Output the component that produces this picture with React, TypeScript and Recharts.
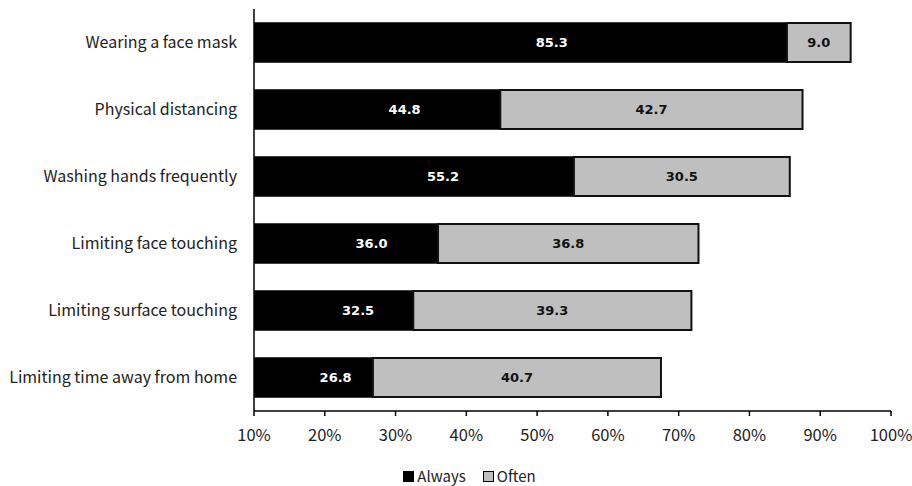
import React from "react";
import {
  BarChart,
  Bar,
  XAxis,
  YAxis,
  Legend,
  LabelList,
} from "recharts";

const categories = [
  "Wearing a face mask",
  "Physical distancing",
  "Washing hands frequently",
  "Limiting face touching",
  "Limiting surface touching",
  "Limiting time away from home",
];
const always = [85.3, 44.8, 55.2, 36.0, 32.5, 26.8];
const often = [9.0, 42.7, 30.5, 36.8, 39.3, 40.7];
const xTicks = [10, 20, 30, 40, 50, 60, 70, 80, 90, 100];

const AXIS_MIN = 10;
const FONT = '"Noto Sans CJK SC", "Noto Sans", sans-serif';
const GRAY = "#bfbfbf";

const data = categories.map((name, i) => ({
  name,
  always: always[i],
  often: often[i],
}));

// label for the "Always" part: centred on the part that is visible past the axis start
const AlwaysLabel = (props: any) => {
  const { x, y, width, height, value } = props;
  const left = x + (width * AXIS_MIN) / value;
  const cx = (left + x + width) / 2;
  return (
    <text
      x={cx}
      y={y + height / 2}
      fill="#fff"
      textAnchor="middle"
      dominantBaseline="central"
      fontFamily="DejaVu Sans"
      fontWeight="bold"
      fontSize={13}
    >
      {Number(value).toFixed(1)}
    </text>
  );
};

const OftenLabel = (props: any) => {
  const { x, y, width, height, value } = props;
  return (
    <text
      x={x + width / 2}
      y={y + height / 2}
      fill="#111"
      textAnchor="middle"
      dominantBaseline="central"
      fontFamily="DejaVu Sans"
      fontWeight="bold"
      fontSize={13}
    >
      {Number(value).toFixed(1)}
    </text>
  );
};

const LegendContent = () => (
  <div
    style={{
      display: "flex",
      justifyContent: "center",
      alignItems: "center",
      fontFamily: FONT,
      fontSize: 15,
      color: "#222",
      lineHeight: "20px",
      paddingLeft: 27,
    }}
  >
    <span style={{ display: "flex", alignItems: "center", marginRight: 17 }}>
      <span
        style={{ width: 11, height: 11, background: "#000", marginRight: 3 }}
      />
      Always
    </span>
    <span style={{ display: "flex", alignItems: "center" }}>
      <span
        style={{
          width: 9,
          height: 9,
          background: GRAY,
          border: "1.5px solid #000",
          marginRight: 3,
        }}
      />
      Often
    </span>
  </div>
);

export default function App() {
  return (
    <div style={{ position: "absolute", left: 0, top: 0, background: "#fff" }}>
      <BarChart
        width={912}
        height={486}
        data={data}
        layout="vertical"
        margin={{ top: 9, right: 21, left: 0, bottom: 45 }}
        barSize={39}
      >
        <XAxis
          type="number"
          domain={[AXIS_MIN, 100]}
          ticks={xTicks}
          allowDataOverflow
          tickFormatter={(v) => `${v}%`}
          tickSize={5}
          tickMargin={13}
          height={30}
          axisLine={{ stroke: "#000", strokeWidth: 1.5 }}
          tickLine={{ stroke: "#000", strokeWidth: 1.5 }}
          tick={{ fill: "#222", fontFamily: FONT, fontSize: 16.5 }}
        />
        <YAxis
          type="category"
          dataKey="name"
          width={254}
          tickSize={0}
          tickMargin={17}
          axisLine={{ stroke: "#000", strokeWidth: 1.5 }}
          tickLine={false}
          tick={{ fill: "#222", fontFamily: FONT, fontSize: 16 }}
        />
        <Legend
          verticalAlign="middle"
          align="center"
          layout="horizontal"
          content={<LegendContent />}
          wrapperStyle={{ top: 466, left: 0, width: 912 }}
        />
        <Bar
          dataKey="always"
          name="Always"
          stackId="a"
          fill="#000"
          stroke="#000"
          strokeWidth={1.5}
          isAnimationActive={false}
        >
          <LabelList dataKey="always" content={<AlwaysLabel />} />
        </Bar>
        <Bar
          dataKey="often"
          name="Often"
          stackId="a"
          fill={GRAY}
          stroke="#111"
          strokeWidth={2}
          isAnimationActive={false}
        >
          <LabelList dataKey="often" content={<OftenLabel />} />
        </Bar>
      </BarChart>
    </div>
  );
}
